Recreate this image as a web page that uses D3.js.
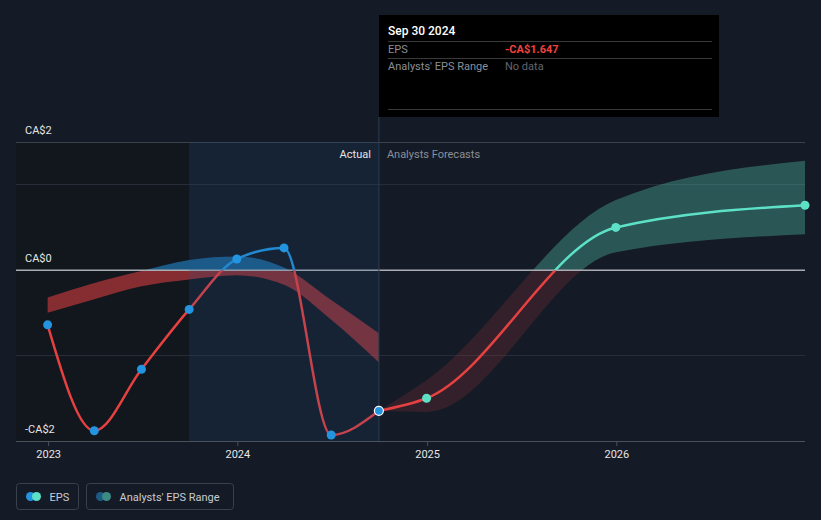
<!DOCTYPE html>
<html>
<head>
<meta charset="utf-8">
<script src="https://cdn.jsdelivr.net/npm/d3@7/dist/d3.min.js"></script>
<style>
  html, body { margin: 0; padding: 0; background: #151b26; }
  svg { display: block; font-family: Roboto, "Noto Sans", sans-serif; }
</style>
</head>
<body>
<svg id="chart" width="821" height="520"></svg>
<script>
// ---------- DATA ----------
const actualDates = ["2022-12-31","2023-03-31","2023-06-30","2023-09-30","2023-12-31","2024-03-31","2024-06-30","2024-09-30"];
const actualEPS   = [-0.64, -1.88, -1.16, -0.46, 0.13, 0.26, -1.93, -1.647];
const pastRangeLow  = [-0.50, -0.34, -0.19, -0.11, -0.06, -0.17, -0.58, -1.08];
const pastRangeHigh = [-0.32, -0.15, -0.01,  0.12,  0.16,  0.03, -0.35, -0.74];

const forecastDates = ["2024-09-30","2024-12-31","2025-12-31","2026-12-31"];
const forecastEPS   = [-1.647, -1.50, 0.50, 0.76];
const forecastLow   = [-1.647, -1.66, 0.21, 0.42];
const forecastHigh  = [-1.647, -1.29, 0.82, 1.28];

const xTickDates  = ["2023-01-01","2024-01-01","2025-01-01","2026-01-01"];
const xTickLabels = ["2023","2024","2025","2026"];
const yGridValues = [1.5, 1, 0, -1, -2];
const yLabelValues = [1.5, 0, -2];
const yLabels = ["CA$2","CA$0","-CA$2"];

const tooltipDate = "Sep 30 2024";
const tooltipEPS = "-CA$1.647";
const highlightStart = "2023-09-30";
const highlightEnd = "2024-09-30";

// ---------- SETUP ----------
const W = 821, H = 520;
const parse = d3.timeParse("%Y-%m-%d");
const svg = d3.select("#chart");

const x = d3.scaleTime()
  .domain([parse("2022-10-31"), parse("2026-12-31")])
  .range([16, 805]);
const y = d3.scaleLinear().domain([-2, 1.5]).range([441, 142]);

const colRed = "#e64141", colBlue = "#2394df", colTeal = "#5ce1c6";

svg.append("rect").attr("width", W).attr("height", H).attr("fill", "#151b26");

const defs = svg.append("defs");
defs.append("clipPath").attr("id", "above").append("rect")
  .attr("x", 0).attr("y", 0).attr("width", W).attr("height", y(0));
defs.append("clipPath").attr("id", "below").append("rect")
  .attr("x", 0).attr("y", y(0)).attr("width", W).attr("height", H - y(0));

// dark past region
svg.append("rect")
  .attr("x", x.range()[0]).attr("y", y(1.5))
  .attr("width", x(parse(highlightStart)) - x.range()[0])
  .attr("height", y(-2) - y(1.5))
  .attr("fill", "#12161d");

// gridlines
svg.append("g").selectAll("line").data(yGridValues).join("line")
  .attr("x1", 16).attr("x2", 805)
  .attr("y1", d => y(d)).attr("y2", d => y(d))
  .attr("stroke", d => d === 1.5 ? "#3c424c" : (d === -2 ? "#4a505a" : "#262d38"))
  .attr("stroke-width", 1)
  .attr("shape-rendering", "crispEdges");

// ---------- BANDS ----------
const pastBand = actualDates.map((d, i) => ({ date: parse(d), lo: pastRangeLow[i], hi: pastRangeHigh[i] }));
const fcBand = forecastDates.map((d, i) => ({ date: parse(d), lo: forecastLow[i], hi: forecastHigh[i] }));

const area = d3.area().curve(d3.curveMonotoneX)
  .x(d => x(d.date)).y0(d => y(d.lo)).y1(d => y(d.hi));

const bands = svg.append("g");
bands.append("path").datum(pastBand).attr("d", area)
  .attr("fill", colRed).attr("fill-opacity", 0.55).attr("clip-path", "url(#below)");
bands.append("path").datum(pastBand).attr("d", area)
  .attr("fill", colBlue).attr("fill-opacity", 0.55).attr("clip-path", "url(#above)");
bands.append("path").datum(fcBand).attr("d", area)
  .attr("fill", colRed).attr("fill-opacity", 0.15).attr("clip-path", "url(#below)");
bands.append("path").datum(fcBand).attr("d", area)
  .attr("fill", colTeal).attr("fill-opacity", 0.3).attr("clip-path", "url(#above)");

// zero line
svg.append("line")
  .attr("x1", 16).attr("x2", 805).attr("y1", y(0)).attr("y2", y(0))
  .attr("stroke", "#a9adb3").attr("stroke-width", 1.5);

// ---------- LINES ----------
const actual = actualDates.map((d, i) => ({ date: parse(d), v: actualEPS[i] }));
const forecast = forecastDates.map((d, i) => ({ date: parse(d), v: forecastEPS[i] }));
const line = d3.line().curve(d3.curveMonotoneX).x(d => x(d.date)).y(d => y(d.v));

const lines = svg.append("g").attr("fill", "none").attr("stroke-width", 2.5);
lines.append("path").datum(actual).attr("d", line).attr("stroke", colRed).attr("clip-path", "url(#below)");
lines.append("path").datum(actual).attr("d", line).attr("stroke", colBlue).attr("clip-path", "url(#above)");
lines.append("path").datum(forecast).attr("d", line).attr("stroke", colRed).attr("clip-path", "url(#below)");
lines.append("path").datum(forecast).attr("d", line).attr("stroke", colTeal).attr("clip-path", "url(#above)");

// highlight overlay (last year of actuals)
svg.append("rect")
  .attr("x", x(parse(highlightStart))).attr("y", y(1.5))
  .attr("width", x(parse(highlightEnd)) - x(parse(highlightStart)))
  .attr("height", y(-2) - y(1.5))
  .attr("fill", "rgb(30,80,130)").attr("fill-opacity", 0.17);

// divider
svg.append("line")
  .attr("x1", x(parse(highlightEnd))).attr("x2", x(parse(highlightEnd)))
  .attr("y1", 117).attr("y2", y(-2))
  .attr("stroke", "#2c3e52").attr("stroke-width", 1);

// ---------- POINTS ----------
svg.append("g").selectAll("circle").data(actual).join("circle")
  .attr("cx", d => x(d.date)).attr("cy", d => y(d.v))
  .attr("r", (d, i) => i === actual.length - 1 ? 4.5 : 4.5)
  .attr("fill", colBlue)
  .attr("stroke", (d, i) => i === actual.length - 1 ? "#ffffff" : "none")
  .attr("stroke-width", 1.2);
svg.append("g").selectAll("circle").data(forecast.slice(1)).join("circle")
  .attr("cx", d => x(d.date)).attr("cy", d => y(d.v))
  .attr("r", 4.5).attr("fill", colTeal);

// ---------- AXES / LABELS ----------
svg.append("g").selectAll("text").data(yLabelValues).join("text")
  .attr("x", 25).attr("y", d => y(d) - 8)
  .attr("fill", "#e6e6e6").attr("font-size", 11)
  .text((d, i) => yLabels[i]);

const xAxis = d3.axisBottom(x)
  .tickValues(xTickDates.map(parse))
  .tickFormat((d, i) => xTickLabels[i])
  .tickSize(5).tickPadding(4);
const gx = svg.append("g").attr("transform", `translate(0,${y(-2)})`).call(xAxis);
gx.select(".domain").remove();
gx.selectAll(".tick line").attr("stroke", "#4a505a");
gx.selectAll(".tick text").attr("fill", "#e6e6e6").attr("font-size", 11)
  .attr("font-family", "Roboto, sans-serif");

svg.append("text").attr("x", x(parse(highlightEnd)) - 8).attr("y", 158)
  .attr("text-anchor", "end").attr("fill", "#e6e6e6").attr("font-size", 11).text("Actual");
svg.append("text").attr("x", x(parse(highlightEnd)) + 8).attr("y", 158)
  .attr("fill", "#8a8f96").attr("font-size", 11).text("Analysts Forecasts");

// ---------- TOOLTIP ----------
const tt = svg.append("g").attr("transform", "translate(379,15)");
tt.append("rect").attr("width", 340).attr("height", 102).attr("fill", "#000000");
[26, 43, 94].forEach(ly => tt.append("line")
  .attr("x1", 9).attr("x2", 333).attr("y1", ly + 0.5).attr("y2", ly + 0.5)
  .attr("stroke", "#3a3a3a"));
tt.append("text").attr("x", 9).attr("y", 20).attr("fill", "#ffffff")
  .attr("font-size", 12).attr("font-weight", 500).text(tooltipDate);
tt.append("text").attr("x", 9).attr("y", 38).attr("fill", "#8a8f96")
  .attr("font-size", 11).text("EPS");
tt.append("text").attr("x", 126).attr("y", 38).attr("fill", "#f0423f")
  .attr("font-size", 11).attr("font-weight", 700).text(tooltipEPS);
tt.append("text").attr("x", 9).attr("y", 55).attr("fill", "#8a8f96")
  .attr("font-size", 11).text("Analysts' EPS Range");
tt.append("text").attr("x", 126).attr("y", 55).attr("fill", "#62666c")
  .attr("font-size", 11).text("No data");

// ---------- LEGEND ----------
const lg = svg.append("g");
const legendItems = [
  { label: "EPS", x: 16.5, w: 62, c1: colBlue, c2: colTeal },
  { label: "Analysts' EPS Range", x: 86.5, w: 147, c1: "#1d5a85", c2: "#3b8c82" }
];
legendItems.forEach(it => {
  const g = lg.append("g").attr("transform", `translate(${it.x},483.5)`);
  g.append("rect").attr("width", it.w).attr("height", 26).attr("rx", 3)
    .attr("fill", "none").attr("stroke", "#3a414c");
  g.append("circle").attr("cx", 14).attr("cy", 13).attr("r", 4.5).attr("fill", it.c1);
  g.append("circle").attr("cx", 20).attr("cy", 13).attr("r", 4.5).attr("fill", it.c2);
  g.append("text").attr("x", 33).attr("y", 17).attr("fill", "#c9ccd1")
    .attr("font-size", 11).text(it.label);
});
</script>
</body>
</html>
